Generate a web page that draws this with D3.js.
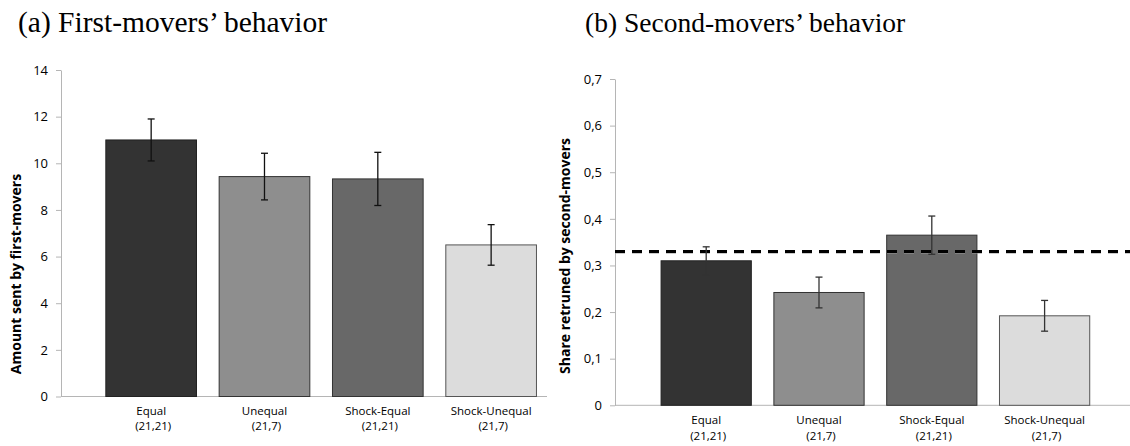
<!DOCTYPE html>
<html>
<head>
<meta charset="utf-8">
<script src="https://cdn.jsdelivr.net/npm/d3@7"></script>
<style>
    body { margin: 0; background: #fff; }
    svg { display: block; }
</style>
</head>
<body>
<svg id="chart"></svg>
<script>
// Chart data
var categories = ["Equal", "Unequal", "Shock-Equal", "Shock-Unequal"];
var pairs = ["(21,21)", "(21,7)", "(21,21)", "(21,7)"];

var firstMeans = [11.0, 9.43, 9.33, 6.5];
var firstErrors = [0.9, 1.0, 1.14, 0.87];
var firstTicks = [0, 2, 4, 6, 8, 10, 12, 14];

var secondMeans = [0.31, 0.242, 0.365, 0.192];
var secondErrors = [0.03, 0.033, 0.041, 0.033];
var secondTicks = [0, 0.1, 0.2, 0.3, 0.4, 0.5, 0.6, 0.7];
var secondRefLine = 0.33;

document.addEventListener('DOMContentLoaded', function () {
    var W = 1130, H = 446;
    var barColors = ["#333333", "#8e8e8e", "#686868", "#dcdcdc"];
    var barStrokes = ["#222222", "#333333", "#333333", "#555555"];

    const svg = d3.select('#chart')
        .attr("width", W)
        .attr("height", H);

    // draws one panel: axis, bars, error bars, labels
    function drawPanel(p) {
        const g = svg.append("g");

        const x = d3.scaleBand()
            .domain(categories)
            .range([p.bandLeft, p.bandRight])
            .paddingInner(0.2)
            .paddingOuter(0.1);

        const y = d3.scaleLinear()
            .domain(p.domain)
            .range([p.bottom, p.top]);

        // Y axis
        const yAxisGroup = g.append("g")
            .attr("transform", `translate(${p.axisX},0)`)
            .call(d3.axisLeft(y).tickValues(p.ticks).tickSize(5).tickSizeOuter(0).tickFormat(p.fmt));
        yAxisGroup.select(".domain").attr("stroke", "#b5b5b5").attr("stroke-width", 1);
        yAxisGroup.selectAll("line").attr("stroke", "#b5b5b5").attr("stroke-width", 1);
        yAxisGroup.selectAll("text")
            .attr("x", -13)
            .attr("fill", "#000")
            .style("font-family", "Open Sans")
            .style("font-size", "13px");

        // X baseline
        g.append("line")
            .attr("x1", p.axisX).attr("x2", p.baseRight)
            .attr("y1", y(0)).attr("y2", y(0))
            .attr("stroke", "#b5b5b5").attr("stroke-width", 1);

        // Bars
        g.selectAll("rect.bar")
            .data(p.means)
            .join("rect")
            .attr("class", "bar")
            .attr("x", (d, i) => x(categories[i]))
            .attr("y", d => y(d))
            .attr("width", x.bandwidth())
            .attr("height", d => y(0) - y(d))
            .attr("fill", (d, i) => barColors[i])
            .attr("stroke", (d, i) => barStrokes[i])
            .attr("stroke-width", 1);

        // Reference line (dashed), drawn over bars
        if (p.refLine != null) {
            g.append("line")
                .attr("x1", p.axisX).attr("x2", W)
                .attr("y1", y(p.refLine) + 1).attr("y2", y(p.refLine) + 1)
                .attr("stroke", "#999")
                .attr("stroke-opacity", 0.5)
                .attr("stroke-width", 3)
                .attr("stroke-dasharray", "10,7");
            g.append("line")
                .attr("x1", p.axisX).attr("x2", W)
                .attr("y1", y(p.refLine)).attr("y2", y(p.refLine))
                .attr("stroke", "#000")
                .attr("stroke-width", 3)
                .attr("stroke-dasharray", "10,7");
        }

        // Error bars
        const eb = g.selectAll("g.err")
            .data(p.means)
            .join("g")
            .attr("class", "err")
            .attr("transform", (d, i) => `translate(${x(categories[i]) + x.bandwidth() / 2},0)`);
        eb.append("line")
            .attr("y1", (d, i) => y(d + p.errors[i]))
            .attr("y2", (d, i) => y(d - p.errors[i]))
            .attr("stroke", p.errColor).attr("stroke-width", 1.3);
        eb.append("line")
            .attr("x1", -3.5).attr("x2", 3.5)
            .attr("y1", (d, i) => y(d + p.errors[i]))
            .attr("y2", (d, i) => y(d + p.errors[i]))
            .attr("stroke", p.errColor).attr("stroke-width", 1.3);
        eb.append("line")
            .attr("x1", -3.5).attr("x2", 3.5)
            .attr("y1", (d, i) => y(d - p.errors[i]))
            .attr("y2", (d, i) => y(d - p.errors[i]))
            .attr("stroke", p.errColor).attr("stroke-width", 1.3);

        // Category labels (two lines)
        const lab = g.selectAll("text.cat")
            .data(categories)
            .join("text")
            .attr("class", "cat")
            .attr("text-anchor", "middle")
            .attr("fill", "#000")
            .style("font-family", "Open Sans")
            .style("font-size", "11.5px")
            .attr("transform", d => `translate(${x(d) + x.bandwidth() / 2},${y(0) + p.labelGap})`);
        lab.append("tspan").attr("x", 0).attr("y", 0).text(d => d);
        lab.append("tspan").attr("x", 2).attr("y", 15.5).text((d, i) => pairs[i]);

        // Y axis title
        g.append("text")
            .attr("text-anchor", "middle")
            .attr("transform", `translate(${p.titleX},${p.titleY}) rotate(-90)`)
            .attr("fill", "#000")
            .attr("font-weight", "bold")
            .style("font-family", "Open Sans")
            .style("font-size", "14px")
            .text(p.yTitle);

        // Panel heading
        svg.append("text")
            .attr("x", p.headX)
            .attr("y", 32)
            .attr("fill", "#000")
            .style("font-family", "Liberation Serif")
            .style("font-size", p.headSize)
            .text(p.heading);
    }

    drawPanel({
        means: firstMeans, errors: firstErrors, ticks: firstTicks,
        domain: [0, 14], top: 70, bottom: 396.5,
        axisX: 61, baseRight: 547, bandLeft: 94.5, bandRight: 547.8,
        fmt: d3.format("d"), errColor: "#111", labelGap: 18,
        yTitle: "Amount sent by first-movers", titleX: 21, titleY: 274,
        heading: "(a) First-movers’ behavior", headX: 18, headSize: "29.5px"
    });

    drawPanel({
        means: secondMeans, errors: secondErrors, ticks: secondTicks,
        domain: [0, 0.7], top: 79, bottom: 405.3, refLine: secondRefLine,
        axisX: 615, baseRight: W, bandLeft: 649.8, bandRight: 1101,
        fmt: d => d === 0 ? "0" : d.toFixed(1).replace(".", ","),
        errColor: "#333", labelGap: 19,
        yTitle: "Share retruned by second-movers", titleX: 570, titleY: 256,
        heading: "(b) Second-movers’ behavior", headX: 585, headSize: "27.5px"
    });
});
</script>
</body>
</html>
